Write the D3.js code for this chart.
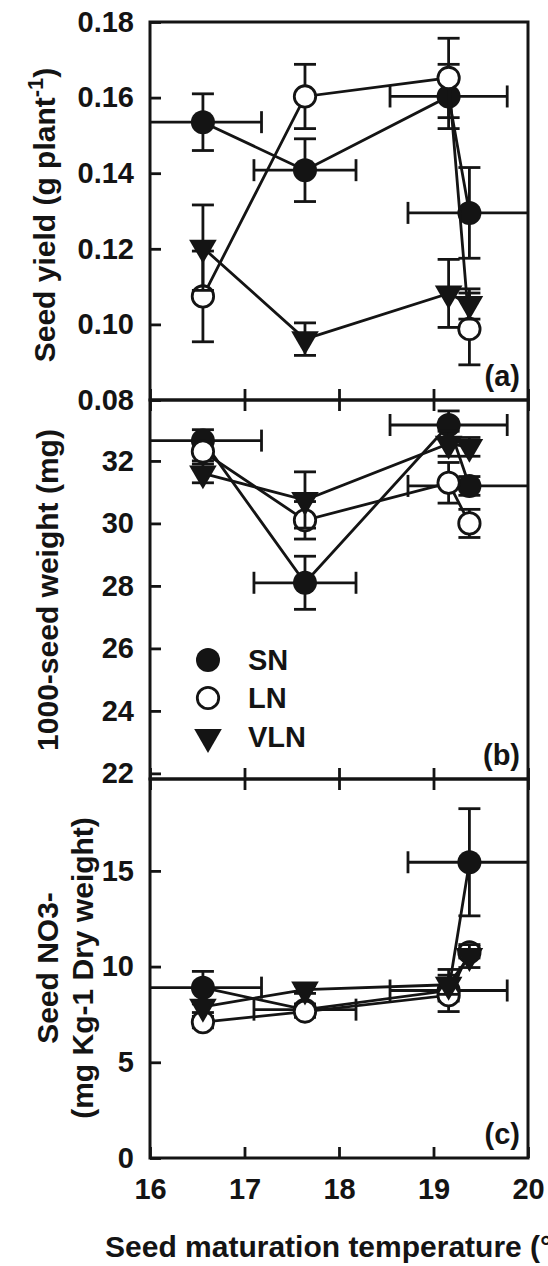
<!DOCTYPE html>
<html>
<head>
<meta charset="utf-8">
<script src="https://cdn.jsdelivr.net/npm/d3@7"></script>
<style>
  body { margin: 0; background: #fff; }
  svg text { font-family: "Liberation Sans", Arial, sans-serif; font-weight: bold; fill: #141414; }
</style>
</head>
<body>
<svg id="chart" width="548" height="1266"></svg>
<script>
// seed maturation temperature (x) shared by all series, with its sd
var temps = [16.56, 17.64, 19.16, 19.38];
var tempErr = [0.62, 0.54, 0.62, 0.65];

var seriesNames = ["SN", "LN", "VLN"];

// (a) seed yield, g plant-1
var yieldSN = [0.1535, 0.1408, 0.1603, 0.1295];
var yieldSNErr = [0.0075, 0.0083, 0.0085, 0.012];
var yieldLN = [0.1074, 0.1603, 0.1652, 0.0988];
var yieldLNErr = [0.012, 0.0085, 0.0105, 0.0095];
var yieldVLN = [0.1203, 0.0961, 0.1082, 0.1054];
var yieldVLNErr = [0.0113, 0.0043, 0.009, 0.004];

// (b) 1000-seed weight, mg
var weightSN = [32.65, 28.1, 33.15, 31.2];
var weightSNErr = [0.35, 0.85, 0.45, 0.3];
var weightLN = [32.3, 30.1, 31.3, 30.0];
var weightLNErr = [0.3, 0.6, 0.65, 0.45];
var weightVLN = [31.6, 30.75, 32.55, 32.45];
var weightVLNErr = [0.3, 0.9, 0.4, 0.3];

// (c) seed nitrate, mg kg-1 dry weight
var no3SN = [8.9, 7.75, 8.75, 15.45];
var no3SNErr = [0.85, 0.3, 1.1, 2.8];
var no3LN = [7.1, 7.65, 8.5, 10.75];
var no3LNErr = [0.3, 0.3, 0.3, 0.3];
var no3VLN = [7.9, 8.8, 9.05, 10.55];
var no3VLNErr = [0.3, 0.2, 0.5, 0.6];

var xTicks = [16, 17, 18, 19, 20];
var yieldTicks = [0.08, 0.10, 0.12, 0.14, 0.16, 0.18];
var weightTicks = [22, 24, 26, 28, 30, 32];
var no3Ticks = [0, 5, 10, 15];

var ink = "#141414";
var left = 150, right = 528;
var fs = 29;
var svg = d3.select("#chart");

var x = d3.scaleLinear().domain([16, 20]).range([left, right]);

var panels = [
  { id: "a", top: 22, bottom: 400, domain: [0.08, 0.18], ticks: yieldTicks, fmt: d3.format(".2f"),
    vals: [yieldSN, yieldLN, yieldVLN], errs: [yieldSNErr, yieldLNErr, yieldVLNErr], topTicks: false, xLabels: false },
  { id: "b", top: 400, bottom: 779, domain: [21.82, 33.95], ticks: weightTicks, fmt: d3.format("d"),
    vals: [weightSN, weightLN, weightVLN], errs: [weightSNErr, weightLNErr, weightVLNErr], topTicks: true, xLabels: false },
  { id: "c", top: 779, bottom: 1158, domain: [0, 19.8], ticks: no3Ticks, fmt: d3.format("d"),
    vals: [no3SN, no3LN, no3VLN], errs: [no3SNErr, no3LNErr, no3VLNErr], topTicks: true, xLabels: true }
];

var tri = d3.symbol().type(d3.symbolTriangle).size(330);

function marker(sel, name, r) {
  if (name === "VLN") {
    sel.append("path").attr("d", tri).attr("transform", "rotate(180)").attr("fill", ink);
  } else if (name === "LN") {
    sel.append("circle").attr("r", r - 1.3).attr("fill", "#fff").attr("stroke", ink).attr("stroke-width", 2.8);
  } else {
    sel.append("circle").attr("r", r).attr("fill", ink);
  }
}

panels.forEach(function (p) {
  var y = d3.scaleLinear().domain(p.domain).range([p.bottom, p.top]);
  var g = svg.append("g").attr("class", "panel-" + p.id);

  g.append("clipPath").attr("id", "clip-" + p.id)
    .append("rect").attr("x", left).attr("y", p.top).attr("width", right - left).attr("height", p.bottom - p.top);

  // y axis, ticks pointing inward
  var ya = g.append("g").attr("transform", "translate(" + left + ",0)")
    .call(d3.axisLeft(y).tickValues(p.ticks).tickFormat(p.fmt).tickSizeInner(-11).tickSizeOuter(0).tickPadding(16));
  ya.select(".domain").remove();
  ya.selectAll("line").attr("stroke", ink).attr("stroke-width", 2.8);
  ya.selectAll("text").attr("font-size", fs).style("font-family", null);

  // bottom x axis
  var xb = g.append("g").attr("transform", "translate(0," + p.bottom + ")")
    .call(d3.axisBottom(x).tickValues(xTicks).tickFormat(p.xLabels ? d3.format("d") : "")
      .tickSizeInner(-11).tickSizeOuter(0).tickPadding(20));
  xb.select(".domain").remove();
  xb.selectAll("line").attr("stroke", ink).attr("stroke-width", 2.8);
  xb.selectAll("text").attr("font-size", fs);

  if (p.topTicks) {
    var xt = g.append("g").attr("transform", "translate(0," + p.top + ")")
      .call(d3.axisTop(x).tickValues(xTicks).tickFormat("").tickSizeInner(-11).tickSizeOuter(0));
    xt.select(".domain").remove();
    xt.selectAll("line").attr("stroke", ink).attr("stroke-width", 2.8);
  }

  var plot = g.append("g").attr("clip-path", "url(#clip-" + p.id + ")");

  seriesNames.forEach(function (name, si) {
    var pts = temps.map(function (t, i) {
      return { t: t, te: tempErr[i], v: p.vals[si][i], e: p.errs[si][i] };
    });
    var sg = plot.append("g").attr("class", "series-" + name);

    sg.append("path").datum(pts)
      .attr("fill", "none").attr("stroke", ink).attr("stroke-width", 2.8)
      .attr("d", d3.line().x(function (d) { return x(d.t); }).y(function (d) { return y(d.v); }));

    var eb = sg.selectAll(".eb").data(pts).enter().append("g").attr("class", "eb")
      .attr("stroke", ink).attr("stroke-width", 2.8);
    eb.append("line")
      .attr("x1", function (d) { return x(d.t); }).attr("x2", function (d) { return x(d.t); })
      .attr("y1", function (d) { return y(d.v - d.e); }).attr("y2", function (d) { return y(d.v + d.e); });
    [-1, 1].forEach(function (s) {
      eb.append("line")
        .attr("x1", function (d) { return x(d.t) - 11; }).attr("x2", function (d) { return x(d.t) + 11; })
        .attr("y1", function (d) { return y(d.v + s * d.e); }).attr("y2", function (d) { return y(d.v + s * d.e); });
    });

    // temperature sd only drawn on SN
    if (name === "SN") {
      eb.append("line")
        .attr("x1", function (d) { return x(d.t - d.te); }).attr("x2", function (d) { return x(d.t + d.te); })
        .attr("y1", function (d) { return y(d.v); }).attr("y2", function (d) { return y(d.v); });
      [-1, 1].forEach(function (s) {
        eb.append("line")
          .attr("x1", function (d) { return x(d.t + s * d.te); }).attr("x2", function (d) { return x(d.t + s * d.te); })
          .attr("y1", function (d) { return y(d.v) - 11; }).attr("y2", function (d) { return y(d.v) + 11; });
      });
    }

    sg.selectAll(".mk").data(pts).enter().append("g").attr("class", "mk")
      .attr("transform", function (d) { return "translate(" + x(d.t) + "," + y(d.v) + ")"; })
      .each(function () { marker(d3.select(this), name, 12); });
  });

  // frame
  g.append("rect").attr("x", left).attr("y", p.top).attr("width", right - left).attr("height", p.bottom - p.top)
    .attr("fill", "none").attr("stroke", ink).attr("stroke-width", 3);

  g.append("text").attr("x", 520).attr("y", p.bottom - 14).attr("text-anchor", "end")
    .attr("font-size", fs).text("(" + p.id + ")");
});

// y axis titles
var t1 = svg.append("text").attr("transform", "translate(55,215)rotate(-90)")
  .attr("text-anchor", "middle").attr("font-size", 30);
t1.append("tspan").text("Seed yield (g plant");
t1.append("tspan").attr("font-size", 22).attr("dy", -12).text("-1");
t1.append("tspan").attr("dy", 12).text(")");

svg.append("text").attr("transform", "translate(58,590)rotate(-90)")
  .attr("text-anchor", "middle").attr("font-size", 30).text("1000-seed weight (mg)");

svg.append("text").attr("transform", "translate(58,968)rotate(-90)")
  .attr("text-anchor", "middle").attr("font-size", 30).text("Seed NO3-");
svg.append("text").attr("transform", "translate(93,968)rotate(-90)")
  .attr("text-anchor", "middle").attr("font-size", 30).text("(mg Kg-1 Dry weight)");

svg.append("text").attr("x", 105).attr("y", 1257).attr("font-size", 30)
  .text("Seed maturation temperature (°C)");

// legend in panel (b)
var legY = [660, 698, 737];
seriesNames.forEach(function (name, i) {
  var lg = svg.append("g").attr("transform", "translate(208," + legY[i] + ")");
  marker(lg, name, 12);
  svg.append("text").attr("x", 248).attr("y", legY[i] + 10).attr("font-size", fs).text(name);
});
</script>
</body>
</html>
